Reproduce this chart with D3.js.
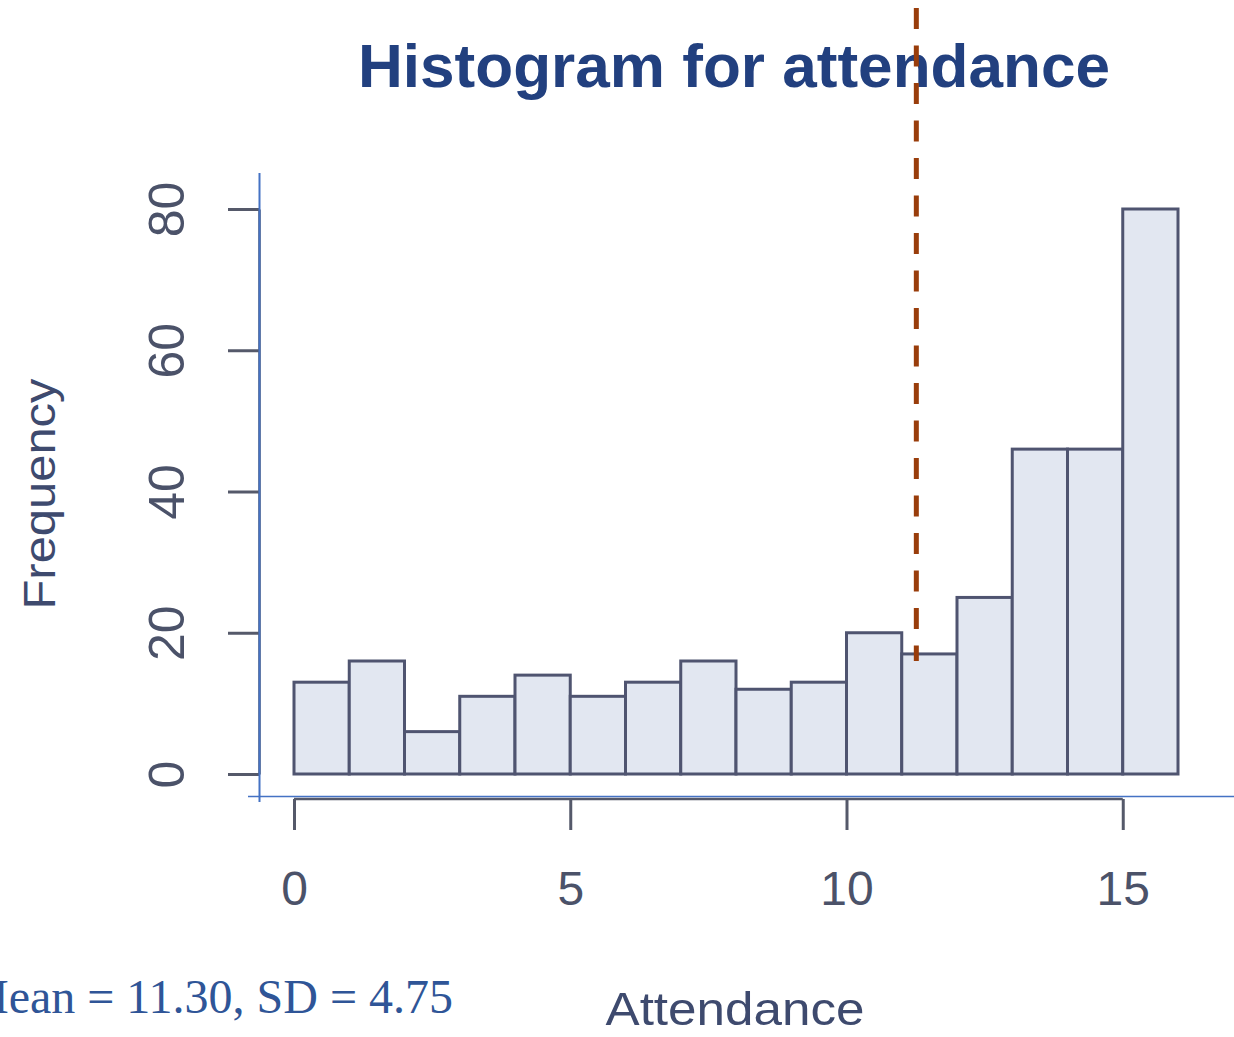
<!DOCTYPE html>
<html>
<head>
<meta charset="utf-8">
<script src="https://cdn.jsdelivr.net/npm/d3@7"></script>
<style>
  body { margin: 0; background: #ffffff; }
  svg { display: block; }
</style>
</head>
<body>
<div id="chart"></div>
<script>
// histogram data
const binStarts = [0, 1, 2, 3, 4, 5, 6, 7, 8, 9, 10, 11, 12, 13, 14, 15];
const binEnds   = [1, 2, 3, 4, 5, 6, 7, 8, 9, 10, 11, 12, 13, 14, 15, 16];
const counts    = [13, 16, 6, 11, 14, 11, 13, 16, 12, 13, 20, 17, 25, 46, 46, 80];
const xTicks = [0, 5, 10, 15];
const yTicks = [0, 20, 40, 60, 80];
const meanValue = 11.30;
const sdValue = 4.75;
const meanLineTop = 0;     // value on the y scale where the dashed line stops
const meanLineBottom = 16;

const width = 1234, height = 1037;

const x = d3.scaleLinear().domain([0, 16]).range([294, 1178]);
const y = d3.scaleLinear().domain([0, 80]).range([774, 209]);

const svg = d3.select("#chart").append("svg")
    .attr("width", width)
    .attr("height", height);

const axisColor = "#55596a";
const labelColor = "#4b5269";
const blue = "#4472c4";

// title
svg.append("text")
    .attr("x", 734)
    .attr("y", 87)
    .attr("text-anchor", "middle")
    .attr("font-family", "Liberation Sans, Arial, sans-serif")
    .attr("font-weight", "bold")
    .attr("font-size", 61)
    .attr("fill", "#22407f")
    .attr("textLength", 752)
    .attr("lengthAdjust", "spacingAndGlyphs")
    .text("Histogram for attendance");

// bars
svg.selectAll(".bar")
    .data(counts)
  .enter().append("rect")
    .attr("class", "bar")
    .attr("x", (d, i) => x(binStarts[i]))
    .attr("width", (d, i) => x(binEnds[i]) - x(binStarts[i]))
    .attr("y", d => y(d))
    .attr("height", d => y(0) - y(d))
    .attr("fill", "#e2e7f1")
    .attr("stroke", "#4f5470")
    .attr("stroke-width", 3);

// y axis (R style, labels rotated)
const yAxis = d3.axisLeft(y).tickValues(yTicks).tickSize(31).tickSizeOuter(0);
const gy = svg.append("g")
    .attr("transform", "translate(259,0)")
    .call(yAxis);
gy.select(".domain").attr("stroke", axisColor).attr("stroke-width", 2.5);
gy.selectAll(".tick line").attr("stroke", axisColor).attr("stroke-width", 3);
gy.selectAll(".tick text")
    .attr("x", 0)
    .attr("dy", 0)
    .attr("text-anchor", "middle")
    .attr("transform", "translate(-75,0) rotate(-90)")
    .attr("font-family", "Liberation Sans, Arial, sans-serif")
    .attr("font-size", 50)
    .attr("fill", labelColor);

// x axis
const xAxis = d3.axisBottom(x).tickValues(xTicks).tickSize(31).tickSizeOuter(0);
const gx = svg.append("g")
    .attr("transform", "translate(0,799)")
    .call(xAxis);
gx.select(".domain").remove();
gx.append("line")
    .attr("x1", x(xTicks[0]))
    .attr("x2", x(xTicks[xTicks.length - 1]))
    .attr("stroke", axisColor)
    .attr("stroke-width", 2.5);
gx.selectAll(".tick line").attr("stroke", axisColor).attr("stroke-width", 3);
gx.selectAll(".tick text")
    .attr("y", 106)
    .attr("dy", 0)
    .attr("font-family", "Liberation Sans, Arial, sans-serif")
    .attr("font-size", 48)
    .attr("fill", labelColor);

// blue frame lines drawn over the plot
svg.append("line")
    .attr("x1", 259.5).attr("x2", 259.5)
    .attr("y1", 173).attr("y2", 802)
    .attr("stroke", blue).attr("stroke-width", 2);
svg.append("line")
    .attr("x1", 248).attr("x2", width)
    .attr("y1", 796.5).attr("y2", 796.5)
    .attr("stroke", blue).attr("stroke-width", 1.6);

// axis titles
svg.append("text")
    .attr("x", 735)
    .attr("y", 1025)
    .attr("text-anchor", "middle")
    .attr("font-family", "Liberation Sans, Arial, sans-serif")
    .attr("font-size", 47)
    .attr("fill", "#3e4a6e")
    .attr("textLength", 259)
    .attr("lengthAdjust", "spacingAndGlyphs")
    .text("Attendance");

svg.append("text")
    .attr("transform", "translate(55,494) rotate(-90)")
    .attr("text-anchor", "middle")
    .attr("font-family", "Liberation Sans, Arial, sans-serif")
    .attr("font-size", 44)
    .attr("fill", "#3e4a6e")
    .attr("textLength", 231)
    .attr("lengthAdjust", "spacingAndGlyphs")
    .text("Frequency");

// mean line
svg.append("line")
    .attr("x1", x(meanValue) - 2).attr("x2", x(meanValue) - 2)
    .attr("y1", 8 + meanLineTop)
    .attr("y2", y(meanLineBottom))
    .attr("stroke", "#993d0b")
    .attr("stroke-width", 5)
    .attr("stroke-dasharray", "21,16.5");

// summary text (starts off the left edge like the picture)
svg.append("text")
    .attr("x", 453)
    .attr("y", 1013)
    .attr("text-anchor", "end")
    .attr("font-family", "Liberation Serif, Times New Roman, serif")
    .attr("font-size", 48)
    .attr("fill", "#2f5597")
    .text("Mean = " + meanValue.toFixed(2) + ", SD = " + sdValue.toFixed(2));
</script>
</body>
</html>
